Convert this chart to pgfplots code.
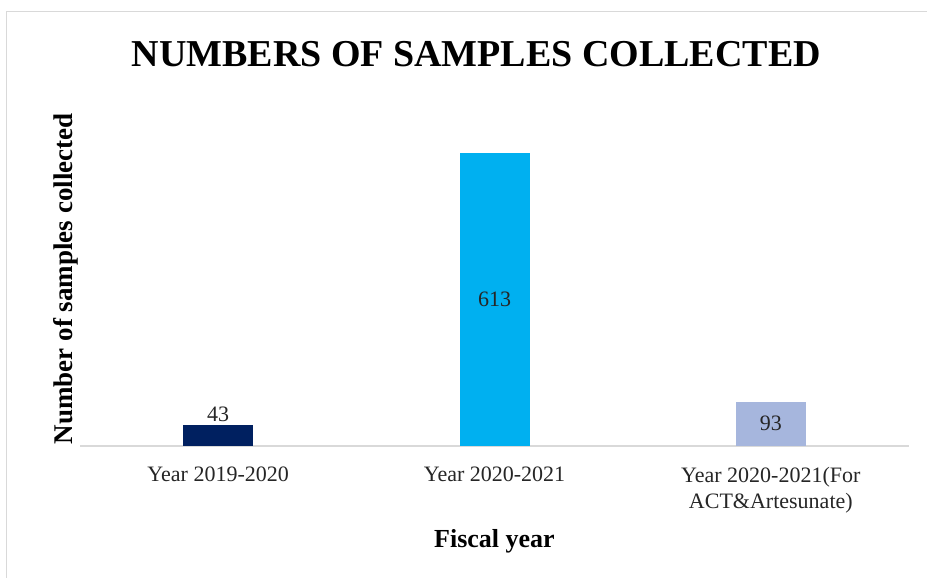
\documentclass[border=0pt]{standalone}
\usepackage{pgfplots}
\pgfplotsset{compat=1.18}
\usepackage{fontspec}
\setmainfont{Liberation Serif}
\definecolor{navy}{HTML}{002060}
\definecolor{sky}{HTML}{00B0F0}
\definecolor{peri}{HTML}{A6B6DD}
\definecolor{frame}{HTML}{D9D9D9}
\definecolor{txt}{HTML}{262626}
\begin{document}
\begin{tikzpicture}
\useasboundingbox (0,0) rectangle (927pt,578pt);
\fill[white] (0,0) rectangle (927pt,578pt);
\draw[frame, line width=1pt] (6pt,-20pt) -- (6pt,566pt) -- (950pt,566pt);
\begin{axis}[
  at={(80pt,132pt)}, anchor=south west,
  scale only axis, width=829pt, height=334.6pt,
  xmin=-0.5, xmax=2.5, ymin=0, ymax=700,
  axis x line*=bottom, axis y line*=left,
  y axis line style={draw=none},
  x axis line style={draw=frame, line width=1.5pt},
  ytick=\empty,
  xtick={0,1,2},
  xticklabels={Year 2019-2020, Year 2020-2021, {Year 2020-2021(For\\ACT\&Artesunate)}},
  major tick length=0pt,
  xticklabel style={font=\fontsize{22}{26}\selectfont, text=txt, align=center, anchor=north, inner sep=0pt, yshift=-21pt},
  /pgf/number format/assume math mode=true,
  ybar, bar width=70pt,
  title={\textbf{NUMBERS OF SAMPLES COLLECTED}},
  title style={font=\fontsize{38}{44}\selectfont, anchor=base, at={(axis description cs:0.478,1)}, yshift=39pt},
  ylabel={\textbf{Number of samples collected}},
  every axis y label/.style={at={(axis description cs:-0.0165,0.5)}, rotate=90, anchor=center, font=\fontsize{27}{30}\selectfont, text=black},
  xlabel={\textbf{Fiscal year}},
  every axis x label/.style={at={(axis description cs:0.5,0)}, anchor=base, yshift=-102pt, font=\fontsize{26}{30}\selectfont, text=black},
  nodes near coords,
  every node near coord/.append style={font=\fontsize{22}{26}\selectfont, text=txt},
]
\addplot[fill=navy, draw=none, bar shift=0pt,
  every node near coord/.append style={anchor=south, yshift=0pt}] coordinates {(0,43)};
\addplot[fill=sky, draw=none, bar shift=0pt,
  every node near coord/.append style={anchor=center, yshift=-146.5pt}] coordinates {(1,613)};
\addplot[fill=peri, draw=none, bar shift=0pt,
  every node near coord/.append style={anchor=center, yshift=-22.2pt}] coordinates {(2,93)};
\end{axis}
\end{tikzpicture}
\end{document}
